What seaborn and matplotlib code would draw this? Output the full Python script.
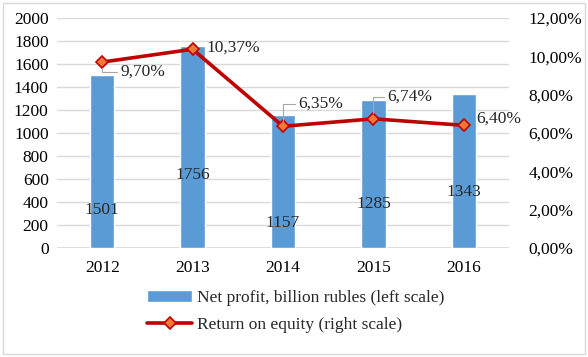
import numpy as np
import pandas as pd
import seaborn as sns
import matplotlib.pyplot as plt
from matplotlib.patches import Rectangle
from matplotlib.ticker import FuncFormatter

# data
years = ["2012", "2013", "2014", "2015", "2016"]
net_profit = [1501, 1756, 1157, 1285, 1343]
roe = [9.70, 10.37, 6.35, 6.74, 6.40]

# label placement (styling only)
bar_lab_frac = [0.22, 0.36, 0.19, 0.30, 0.36]
roe_lab_off = [(13, -7), (10, 1), (11, 16), (10, 16), (9, 5)]
roe_lab_leader = [True, False, True, True, False]

sns.set_theme(style="white")
plt.rcParams["font.family"] = ["Liberation Serif", "DejaVu Serif"]

bar_col = "#5B9BD5"
line_col = "#C00000"

df = pd.DataFrame({"year": years, "profit": net_profit, "roe": roe})

fig = plt.figure(figsize=(5.88, 3.57), dpi=100)
ax = fig.add_axes([57 / 588, 1 - 248 / 357, 452 / 588, 230 / 357])

sns.barplot(data=df, x="year", y="profit", color=bar_col, width=0.27,
            saturation=1, ax=ax, label="Net profit, billion rubles (left scale)")
if ax.get_legend() is not None:
    ax.get_legend().remove()
ax.set_ylim(0, 2000)
ax.set_yticks(range(0, 2001, 200))
ax.set_xlim(-0.5, 4.5)
ax.set_xlabel("")
ax.set_ylabel("")
ax.grid(axis="y", color="#d9d9d9", lw=1)
ax.set_axisbelow(True)
for s in ax.spines.values():
    s.set_visible(False)
ax.axhline(0, color="#d9d9d9", lw=1.2, zorder=0)
ax.tick_params(axis="both", labelsize=12.5, length=0, pad=6, colors="black")
ax.tick_params(axis="x", pad=9)

for i, v in enumerate(net_profit):
    ax.text(i, v * bar_lab_frac[i], str(v), ha="center", va="center",
            fontsize=12.5)

ax2 = ax.twinx()
sns.lineplot(x=np.arange(len(years)), y=roe, ax=ax2, color=line_col, lw=2.6,
             marker="D", markersize=6, markerfacecolor="#F07838",
             markeredgecolor=line_col, markeredgewidth=1.2,
             label="Return on equity (right scale)", legend=False)
ax2.set_ylim(0, 12)
ax2.set_yticks(range(0, 13, 2))
ax2.yaxis.set_major_formatter(FuncFormatter(lambda v, p: f"{v:.2f}%".replace(".", ",")))
ax2.tick_params(axis="y", labelsize=12.5, length=0, pad=14, colors="black")
ax2.grid(False)
for s in ax2.spines.values():
    s.set_visible(False)

for i, v in enumerate(roe):
    dx, dy = roe_lab_off[i]
    txt = f"{v:.2f}%".replace(".", ",")
    if roe_lab_leader[i]:
        ax2.annotate(txt, (i, v), xytext=(dx, dy), textcoords="offset points",
                     ha="left", va="center", fontsize=12.5,
                     arrowprops=dict(arrowstyle="-", color="#a6a6a6", lw=0.8,
                                     shrinkA=0, shrinkB=4,
                                     connectionstyle="angle,angleA=0,angleB=90"))
    else:
        ax2.annotate(txt, (i, v), xytext=(dx, dy), textcoords="offset points",
                     ha="left", va="center", fontsize=12.5)

h1, l1 = ax.get_legend_handles_labels()
h2, l2 = ax2.get_legend_handles_labels()
fig.legend(h1 + h2, l1 + l2, loc="upper left", bbox_to_anchor=(140 / 588, 1 - 283 / 357),
           frameon=False, fontsize=12.5, handlelength=2.6, handletextpad=0.3,
           labelspacing=0.6, borderaxespad=0)

fig.patches.append(Rectangle((3 / 588, 3 / 357), 582 / 588, 351 / 357,
                             transform=fig.transFigure, fill=False,
                             edgecolor="#d9d9d9", lw=1))

fig.savefig("out.png", dpi=100)
